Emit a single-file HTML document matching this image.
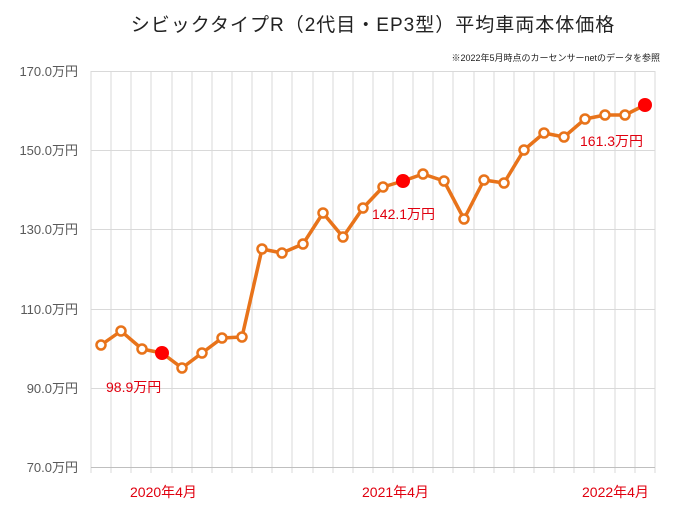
<!DOCTYPE html>
<html><head><meta charset="utf-8"><style>
html,body{margin:0;padding:0;background:#fff;}
svg{display:block;font-family:"Liberation Sans","Noto Sans CJK JP",sans-serif;}
</style></head><body>
<svg width="680" height="511" viewBox="0 0 680 511" xmlns="http://www.w3.org/2000/svg">
<text x="373" y="31" font-size="19" text-anchor="middle" fill="#222" letter-spacing="1">シビックタイプR（2代目・EP3型）平均車両本体価格</text>
<text x="660" y="61" font-size="9" text-anchor="end" fill="#222">※2022年5月時点のカーセンサーnetのデータを参照</text>
<g stroke="#d9d9d9" stroke-width="1">
<path d="M91 71V473M111 71V473M131 71V473M151 71V473M172 71V473M192 71V473M212 71V473M232 71V473M252 71V473M272 71V473M292 71V473M313 71V473M333 71V473M353 71V473M373 71V473M393 71V473M413 71V473M433 71V473M453 71V473M474 71V473M494 71V473M514 71V473M534 71V473M554 71V473M574 71V473M594 71V473M615 71V473M635 71V473M655 71V473"/>
<path d="M91 71.5H655M91 150.5H655M91 229.5H655M91 309.5H655M91 388.5H655"/>
</g>
<path d="M91 467.5H655" stroke="#bfbfbf" stroke-width="1"/>
<g font-size="13" fill="#595959" text-anchor="end">
<text x="78" y="76">170.0万円</text>
<text x="78" y="155">150.0万円</text>
<text x="78" y="234">130.0万円</text>
<text x="78" y="314">110.0万円</text>
<text x="78" y="393">90.0万円</text>
<text x="78" y="472">70.0万円</text>
</g>
<polyline fill="none" stroke="#E8731A" stroke-width="3.5" stroke-linejoin="round" points="101,345 121,331 142,349 162,353 182,368 202,353 222,338 242,337 262,249 282,253 303,244 323,213 343,237 363,208 383,187 403,181 423,174 444,181 464,219 484,180 504,183 524,150 544,133 564,137 585,119 605,115 625,115 645,105"/>
<g fill="#fff" stroke="#E8731A" stroke-width="2.5">
<circle cx="101" cy="345" r="4.5"/><circle cx="121" cy="331" r="4.5"/><circle cx="142" cy="349" r="4.5"/>
<circle cx="182" cy="368" r="4.5"/><circle cx="202" cy="353" r="4.5"/><circle cx="222" cy="338" r="4.5"/><circle cx="242" cy="337" r="4.5"/>
<circle cx="262" cy="249" r="4.5"/><circle cx="282" cy="253" r="4.5"/><circle cx="303" cy="244" r="4.5"/><circle cx="323" cy="213" r="4.5"/>
<circle cx="343" cy="237" r="4.5"/><circle cx="363" cy="208" r="4.5"/><circle cx="383" cy="187" r="4.5"/>
<circle cx="423" cy="174" r="4.5"/><circle cx="444" cy="181" r="4.5"/><circle cx="464" cy="219" r="4.5"/><circle cx="484" cy="180" r="4.5"/>
<circle cx="504" cy="183" r="4.5"/><circle cx="524" cy="150" r="4.5"/><circle cx="544" cy="133" r="4.5"/><circle cx="564" cy="137" r="4.5"/>
<circle cx="585" cy="119" r="4.5"/><circle cx="605" cy="115" r="4.5"/><circle cx="625" cy="115" r="4.5"/>
</g>
<g fill="#FF0000">
<circle cx="162" cy="353" r="7"/><circle cx="403" cy="181" r="7"/><circle cx="645" cy="105" r="7"/>
</g>
<g font-size="14" fill="#E0000F">
<text x="106" y="392">98.9万円</text>
<text x="372" y="219">142.1万円</text>
<text x="580" y="146">161.3万円</text>
<text x="130" y="497">2020年4月</text>
<text x="362" y="497">2021年4月</text>
<text x="582" y="497">2022年4月</text>
</g>
</svg>
</body></html>
